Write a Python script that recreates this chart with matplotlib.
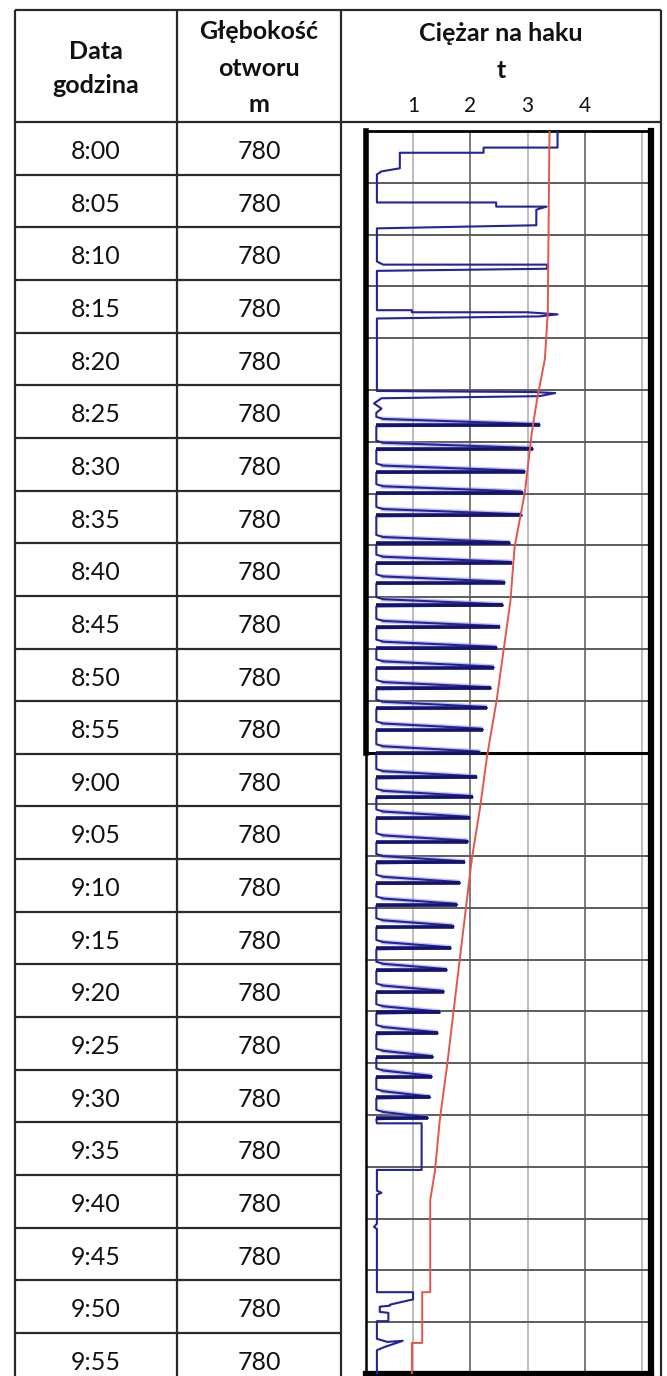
import matplotlib
matplotlib.use('Agg')
import matplotlib.pyplot as plt
from matplotlib import transforms

plt.rcParams['font.family'] = ['Lato', 'DejaVu Sans']

# --- dane tabeli ---
times = ['8:00', '8:05', '8:10', '8:15', '8:20', '8:25', '8:30', '8:35',
         '8:40', '8:45', '8:50', '8:55', '9:00', '9:05', '9:10', '9:15',
         '9:20', '9:25', '9:30', '9:35', '9:40', '9:45', '9:50', '9:55']
depth = [780, 780, 780, 780, 780, 780, 780, 780, 780, 780, 780, 780,
         780, 780, 780, 780, 780, 780, 780, 780, 780, 780, 780, 780]
col1_head = ['Data', 'godzina']
col2_head = ['Głębokość', 'otworu', 'm']
col3_head = ['Ciężar na haku', 't']
load_ticks = [1, 2, 3, 4]
grid_loads = [1, 2, 3, 4, 5]

# --- wykres: minuty od 8:00, ciężar w t ---
red_t = [0, 17.5, 22.0, 26.0, 29.2, 34.9, 40.2, 45.3, 54.9, 60.4, 65.3, 70.1,
         74.2, 83.9, 90.4, 95.3, 100.5, 103.2, 112.1, 112.1, 117.0, 117.0, 120]
red_v = [3.38, 3.35, 3.30, 3.16, 3.07, 2.95, 2.77, 2.70, 2.46, 2.29, 2.17, 2.03,
         1.94, 1.73, 1.59, 1.47, 1.38, 1.30, 1.30, 1.16, 1.16, 0.98, 0.98]

head_t = [0, 1.6, 1.6, 2.1, 2.1, 3.6, 3.9, 4.2, 6.9, 6.9, 7.3, 7.3, 7.6, 9.1,
          9.4, 12.6, 12.9, 12.9, 13.3, 13.5, 17.3, 17.3, 17.5, 17.5, 17.7,
          17.9, 18.1, 25.1, 25.2, 25.3, 25.6, 25.8, 26.3, 26.8, 27.2]
head_v = [3.52, 3.52, 2.23, 2.23, 0.77, 0.77, 0.45, 0.37, 0.37, 2.45, 2.45,
          3.33, 3.15, 3.15, 0.37, 0.37, 0.48, 3.35, 3.33, 0.37, 0.37, 0.98,
          0.98, 3.0, 3.52, 3.2, 0.37, 0.37, 3.1, 3.48, 3.2, 0.45, 0.32, 0.45, 0.36]

cycle_t = [28.4, 30.7, 32.9, 34.9, 37.1, 39.8, 41.7, 43.6, 45.8, 47.9, 49.9,
           51.8, 53.8, 55.7, 57.8, 60.0, 62.4, 64.3, 66.3, 68.6, 70.6, 72.6,
           74.7, 76.8, 78.9, 81.0, 83.1, 85.1, 87.1, 89.4, 91.3, 93.3, 95.3]
cycle_peak = [3.21, 3.09, 2.95, 2.91, 2.90, 2.69, 2.72, 2.60, 2.57, 2.51, 2.46,
              2.41, 2.36, 2.29, 2.22, 2.17, 2.11, 2.04, 1.99, 1.96, 1.90, 1.82,
              1.77, 1.71, 1.66, 1.59, 1.54, 1.47, 1.43, 1.35, 1.33, 1.30, 1.26]
base_load = 0.36

tail_t = [95.8, 95.8, 100.3, 100.3, 102.3, 102.5, 102.7, 105.5, 105.8, 106.0,
          112.1, 112.1, 112.8, 113.3, 113.4, 113.5, 114.0, 114.1, 114.9, 114.9,
          116.6, 116.9, 116.8, 117.4, 117.7, 120]
tail_v = [0.37, 1.15, 1.15, 0.37, 0.37, 0.45, 0.37, 0.37, 0.32, 0.37,
          0.37, 1.0, 1.0, 0.6, 0.6, 0.42, 0.42, 0.57, 0.57, 0.37,
          0.37, 0.55, 0.82, 0.5, 0.37, 0.37]

W, H = 667, 1376
fig = plt.figure(figsize=(W / 100, H / 100), dpi=100)

# tabela w pikselach
tab = fig.add_axes([0, 0, 1, 1])
tab.set_xlim(0, W)
tab.set_ylim(H, 0)
tab.axis('off')

col_x = [14.5, 177, 341, 661]
top, head_bot, row_h = 10, 122, 52.65
line_kw = dict(color='#2a2a2a', lw=1.6)
tab.hlines([top, head_bot], col_x[0], col_x[-1], **line_kw)
tab.hlines([head_bot + row_h * (i + 1) for i in range(len(times))], col_x[0], col_x[2], **line_kw)
tab.vlines(col_x, top, H, **line_kw)

c1 = (col_x[0] + col_x[1]) / 2
c2 = (col_x[1] + col_x[2]) / 2
c3 = (col_x[2] + col_x[3]) / 2
txt = dict(ha='center', va='baseline', fontsize=18, color='#111111')

for y, s in zip([59, 93], col1_head):
    tab.text(c1, y, s, fontweight='bold', **txt)
for y, s in zip([39, 76, 112], col2_head):
    tab.text(c2, y, s, fontweight='bold', **txt)
for y, s in zip([41, 78], col3_head):
    tab.text(c3, y, s, fontweight='bold', **txt)

for i, (t, d) in enumerate(zip(times, depth)):
    yb = head_bot + row_h * i + 37
    tab.text(c1, yb, t, **txt)
    tab.text(c2, yb, str(d), **txt)

# wykres ciezaru na haku
x0, x1, y0, y1 = 366, 651, 131, 1374
ax = fig.add_axes([x0 / W, 1 - y1 / H, (x1 - x0) / W, (y1 - y0) / H])
ax.set_xlim(0.18, 5.15)
ax.set_ylim(120, 0)
ax.set_xticks([])
ax.set_yticks([])

for v in grid_loads:
    ax.axvline(v, color='#7a7a7a' if v % 2 == 0 else '#bdbdbd', lw=1.4, zorder=1)
for m in range(5, 120, 5):
    if m == 60:
        ax.axhline(m, color='black', lw=2.2, zorder=1)
    else:
        ax.axhline(m, color='#5c5c5c', lw=1.4, zorder=1)

ax.spines['top'].set_linewidth(2.0)
ax.spines['left'].set_linewidth(1.8)
ax.spines['right'].set_linewidth(4.5)
ax.spines['bottom'].set_linewidth(4.5)
ax.axvline(0.18, ymin=0.5, ymax=1, color='black', lw=4, clip_on=False)

blue_t, blue_v = list(head_t), list(head_v)
for t, p in zip(cycle_t, cycle_peak):
    blue_t += [t - 0.8, t - 0.6, t - 0.1, t, t + 0.1]
    blue_v += [base_load, base_load + 0.12, p - 0.04, p, base_load]
    ax.plot([base_load + 0.12, p - 0.04], [t - 0.6, t - 0.1],
            color='#8a8ae0', lw=3.5, alpha=0.5, zorder=2)
blue_t += tail_t
blue_v += tail_v

ax.plot(blue_v, blue_t, color='#23239a', lw=1.5, zorder=3)
ax.hlines(cycle_t, base_load, cycle_peak, color='#14146e', lw=2.6, zorder=4)
ax.plot(red_v, red_t, color='#e2564c', lw=1.4, zorder=5)

trans = transforms.blended_transform_factory(ax.transData, tab.transData)
for v in load_ticks:
    tab.text(v, 112, str(v), transform=trans, ha='center', va='baseline',
             fontsize=15, color='#111111')

fig.savefig('out.png', dpi=100)
